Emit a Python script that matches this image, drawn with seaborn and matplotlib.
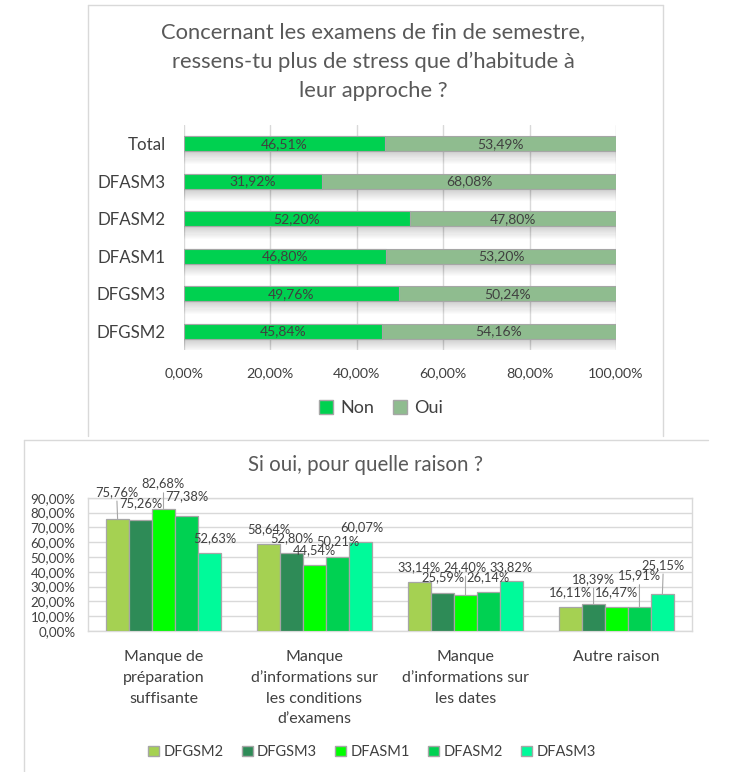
import matplotlib
matplotlib.use("Agg")
import matplotlib.pyplot as plt
from matplotlib.patches import Patch, Rectangle
from matplotlib.lines import Line2D
import seaborn as sns
import pandas as pd

# ---------------- data ----------------
top_title = ["Concernant les examens de fin de semestre,",
             "ressens-tu plus de stress que d\u2019habitude à",
             "leur approche ?"]
top_categories = ["Total", "DFASM3", "DFASM2", "DFASM1", "DFGSM3", "DFGSM2"]
non_values = [46.51, 31.92, 52.20, 46.80, 49.76, 45.84]
oui_values = [53.49, 68.08, 47.80, 53.20, 50.24, 54.16]
top_ticks = [0, 20, 40, 60, 80, 100]
top_tick_labels = ["0,00%", "20,00%", "40,00%", "60,00%", "80,00%", "100,00%"]
top_series = ["Non", "Oui"]

bottom_title = "Si oui, pour quelle raison ?"
reasons = ["Manque de\npréparation\nsuffisante",
           "Manque\nd\u2019informations sur\nles conditions\nd\u2019examens",
           "Manque\nd\u2019informations sur\nles dates",
           "Autre raison"]
groups = ["DFGSM2", "DFGSM3", "DFASM1", "DFASM2", "DFASM3"]
reason_values = {
    "DFGSM2": [75.76, 58.64, 33.14, 16.11],
    "DFGSM3": [75.26, 52.80, 25.59, 18.39],
    "DFASM1": [82.68, 44.54, 24.40, 16.47],
    "DFASM2": [77.38, 50.21, 26.14, 15.91],
    "DFASM3": [52.63, 60.07, 33.82, 25.15],
}
bottom_ticks = [0, 10, 20, 30, 40, 50, 60, 70, 80, 90]
bottom_tick_labels = ["0,00%", "10,00%", "20,00%", "30,00%", "40,00%",
                      "50,00%", "60,00%", "70,00%", "80,00%", "90,00%"]

# label placement (pixels above bar top, pixel shift in x), per group then reason
label_lift = {
    "DFGSM2": [27, 15, 15, 15],
    "DFGSM3": [16, 15, 16, 25],
    "DFASM1": [25, 15, 28, 14],
    "DFASM2": [20, 15, 15, 32],
    "DFASM3": [15, 15, 14, 29],
}
label_shift = {
    "DFGSM2": [-1, 0, 0, 0],
    "DFGSM3": [0, 0, 0, 0],
    "DFASM1": [0, 0, 0, 0],
    "DFASM2": [0, 0, 0, 0],
    "DFASM3": [5, 1, 0, 1],
}

# ---------------- style ----------------
non_color = "#00d150"
oui_color = "#8fbc8f"
palette = ["#a5d152", "#2e8b57", "#00ff00", "#00d152", "#00fa9a"]
edge = "#a6a6a6"
grid_c = "#d9d9d9"
txt = "#404040"
title_c = "#595959"

sns.set_theme(style="white")
plt.rcParams["font.family"] = ["Lato", "DejaVu Sans"]

W, H = 740, 772
fig = plt.figure(figsize=(W / 100, H / 100), dpi=100)
fig.patch.set_facecolor("white")


def fx(px):
    return px / W


def fy(py):
    return 1 - py / H


# frames
fig.add_artist(Line2D([fx(87.5), fx(87.5)], [fy(4.5), fy(436)], color=grid_c, lw=1))
fig.add_artist(Line2D([fx(662.5), fx(662.5)], [fy(4.5), fy(436)], color=grid_c, lw=1))
fig.add_artist(Line2D([fx(87.5), fx(662.5)], [fy(4.5), fy(4.5)], color=grid_c, lw=1))
fig.add_artist(Line2D([fx(23.5), fx(23.5)], [fy(439.5), fy(772)], color=grid_c, lw=1))
fig.add_artist(Line2D([fx(23.5), fx(708)], [fy(439.5), fy(439.5)], color=grid_c, lw=1))

# ---------------- top chart ----------------
for i, line in enumerate(top_title):
    fig.text(fx(373), fy([32, 62, 91][i]), line, ha="center", va="center",
             fontsize=15.8, color=title_c)

ax1 = fig.add_axes([fx(184), fy(350), fx(616) - fx(184), (350 - 125) / H])
df_top = pd.DataFrame({"cat": top_categories, "non": non_values,
                       "total": [n + o for n, o in zip(non_values, oui_values)]})
sns.barplot(data=df_top, y="cat", x="total", orient="h", color=oui_color,
            width=0.4, edgecolor=edge, linewidth=0.8, saturation=1, ax=ax1, zorder=3)
sns.barplot(data=df_top, y="cat", x="non", orient="h", color=non_color,
            width=0.4, edgecolor=edge, linewidth=0.8, saturation=1, ax=ax1, zorder=4)

# soft shadow below each bar
n = len(top_categories)
for p in ax1.patches[:n]:
    x0, w = p.get_x(), p.get_width()
    yb = p.get_y() + p.get_height()
    for k in range(12):
        h = 0.33 * (k + 1) / 12
        ax1.add_patch(Rectangle((x0, yb), w, h, facecolor="black", alpha=0.014,
                                edgecolor="none", zorder=2))

for p, nv, ov in zip(ax1.patches[n:2 * n], non_values, oui_values):
    yc = p.get_y() + p.get_height() / 2
    ax1.text(nv / 2, yc, f"{nv:.2f}%".replace(".", ","), ha="center", va="center",
             fontsize=10, color=txt, zorder=6)
    ax1.text(nv + ov / 2, yc, f"{ov:.2f}%".replace(".", ","), ha="center", va="center",
             fontsize=10, color=txt, zorder=6)

ax1.set_xlim(0, 100)
ax1.set_ylim(n - 0.5, -0.5)
ax1.set_xticks(top_ticks)
ax1.set_xticklabels(top_tick_labels)
ax1.set_xlabel("")
ax1.set_ylabel("")
for x in top_ticks:
    ax1.axvline(x, color=grid_c, lw=1, zorder=1)
for s in ax1.spines.values():
    s.set_visible(False)
ax1.tick_params(axis="x", length=0, pad=12, labelsize=10.3, labelcolor=txt)
ax1.tick_params(axis="y", length=0, pad=13, labelsize=12.2, labelcolor=txt)

fig.legend(handles=[Patch(facecolor=non_color, edgecolor=edge, label=top_series[0]),
                    Patch(facecolor=oui_color, edgecolor=edge, label=top_series[1])],
           loc="center", bbox_to_anchor=(fx(381), fy(408)), ncol=2, frameon=False,
           fontsize=13, handlelength=0.8, handleheight=0.8, handletextpad=0.4,
           columnspacing=1.0, labelcolor=txt)

# ---------------- bottom chart ----------------
fig.text(fx(366), fy(465), bottom_title, ha="center", va="center",
         fontsize=14.8, color=title_c)

ax2 = fig.add_axes([fx(88), fy(631), fx(692) - fx(88), (631 - 497.7) / H])
rows = []
for g in groups:
    for r, v in zip(reasons, reason_values[g]):
        rows.append({"reason": r, "group": g, "value": v})
df_b = pd.DataFrame(rows)
sns.barplot(data=df_b, x="reason", y="value", hue="group", order=reasons,
            hue_order=groups, palette=palette, width=0.76, saturation=1,
            edgecolor=edge, linewidth=0.9, ax=ax2, legend=False, zorder=3)

for cont, g in zip(ax2.containers, groups):
    for j, bar in enumerate(cont):
        v = reason_values[g][j]
        xc = bar.get_x() + bar.get_width() / 2
        lift = label_lift[g][j]
        props = None
        if lift > 20:
            props = dict(arrowstyle="-", color=edge, lw=0.8, shrinkA=0, shrinkB=0)
        ax2.annotate(f"{v:.2f}%".replace(".", ","), xy=(xc, v),
                     xytext=(label_shift[g][j], lift), textcoords="offset pixels",
                     ha="center", va="center", fontsize=9.3, color=txt,
                     arrowprops=props, zorder=6, annotation_clip=False)

ax2.set_ylim(0, 90)
ax2.set_xlim(-0.5, len(reasons) - 0.5)
ax2.set_yticks(bottom_ticks)
ax2.set_yticklabels(bottom_tick_labels)
ax2.set_xlabel("")
ax2.set_ylabel("")
ax2.yaxis.grid(True, color=grid_c, lw=1)
ax2.set_axisbelow(True)
for s in ax2.spines.values():
    s.set_color(grid_c)
    s.set_linewidth(1)
ax2.tick_params(axis="y", length=0, pad=9, labelsize=9.6, labelcolor=txt)
ax2.tick_params(axis="x", length=0, pad=14, labelsize=11.5, labelcolor=txt)
for lab in ax2.get_xticklabels():
    lab.set_linespacing(1.6)
    lab.set_va("top")

fig.legend(handles=[Patch(facecolor=c, edgecolor=edge, label=g) for c, g in zip(palette, groups)],
           loc="center", bbox_to_anchor=(fx(372), fy(752)), ncol=5, frameon=False,
           fontsize=10.5, handlelength=0.75, handleheight=0.75, handletextpad=0.3,
           columnspacing=1.25, labelcolor=txt)

fig.savefig("out.png", dpi=100, facecolor="white")
